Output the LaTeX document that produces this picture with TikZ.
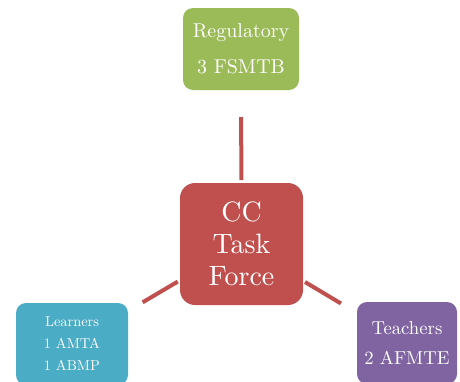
\documentclass[tikz,border=0pt]{standalone}
\usepackage{fontspec}
\setmainfont{lmroman10-regular.otf}
\usetikzlibrary{calc}
\definecolor{cgreen}{HTML}{9BBB59}
\definecolor{cred}{HTML}{C0504D}
\definecolor{cblue}{HTML}{4BACC6}
\definecolor{cpurple}{HTML}{8064A2}
\begin{document}
\begin{tikzpicture}[x=1pt,y=-1pt,
  box/.style={rectangle, rounded corners=10pt, inner sep=0pt, text=white, align=center, draw=none},
  link/.style={draw=cred, line width=4pt}]
\useasboundingbox (0,0) rectangle (460,381);
\node[box, fill=cgreen, minimum width=116pt, minimum height=82pt,
  font={\fontsize{20}{36}\selectfont}] (reg) at (241,49) {Regulatory\\3 FSMTB};
\node[box, fill=cred, rounded corners=15pt, minimum width=123pt, minimum height=122pt,
  font={\fontsize{28}{32}\selectfont}] (cc) at (241.5,244) {CC\\Task\\Force};
\node[box, fill=cblue, minimum width=112pt, minimum height=82pt,
  font={\fontsize{14.4}{22}\selectfont}] (learn) at (72,344) {Learners\\1 AMTA\\1 ABMP};
\node[box, fill=cpurple, minimum width=100pt, minimum height=82pt,
  font={\fontsize{18.7}{30}\selectfont}] (teach) at (407,343) {Teachers\\2 AFMTE};
\draw[link, shorten <=64pt, shorten >=68pt] (cc.center) -- (reg.center);
\draw[link, shorten <=74pt, shorten >=82pt] (cc.center) -- (learn.center);
\draw[link, shorten <=74pt, shorten >=77pt] (cc.center) -- (teach.center);
\end{tikzpicture}
\end{document}
